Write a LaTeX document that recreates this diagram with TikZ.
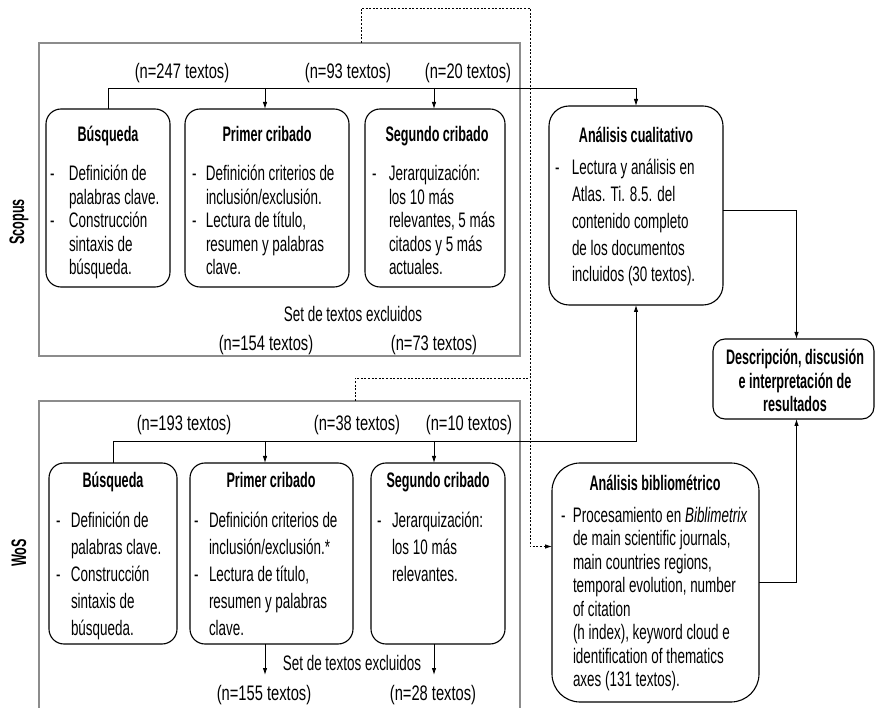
\documentclass[tikz,border=0pt]{standalone}
\usepackage{fontspec}
\setmainfont{Liberation Sans}[FakeStretch=0.64, BoldFeatures={FakeStretch=0.6}]
\newfontfamily\lbfont{Liberation Sans}[FakeStretch=0.70]
\usetikzlibrary{arrows.meta,fit}
\definecolor{og}{gray}{0.55}
\newcommand\fA{\fontsize{21}{23.5}\selectfont}
\newcommand\fB{\fontsize{21}{27}\selectfont}
\newcommand\fC{\fontsize{21}{26.75}\selectfont}
\newcommand\tstrut{\rule{0pt}{16pt}}
\newcommand\bul[1]{\makebox[#1pt][l]{-}}
\newcommand\ind[1]{\hspace*{#1pt}}
\begin{document}
\begin{tikzpicture}[x=1pt,y=-1pt,
  every node/.style={inner sep=0pt, outer sep=0pt},
  box/.style={draw, line width=1.1pt, rounded corners=#1},
  box/.default=15pt,
  outer/.style={draw=og, line width=1.2pt},
  arr/.style={line width=0.9pt, -{Latex[length=7pt,width=4.5pt]}},
  dotl/.style={line width=0.8pt, dash pattern=on 2pt off 1.6pt},
  txt/.style={anchor=north west, align=left},
  hd/.style={anchor=base, font=\bfseries\fA},
  lab/.style={font=\lbfont\fA},
  side/.style={rotate=90, font=\bfseries\fA}]
\useasboundingbox (0,0) rectangle (876,708);

% outer frames
\node[outer, fit={(39,43) (520,356)}] (sc) {};
\coordinate (wosA) at (39,708);
\coordinate (wosB) at (39,401);
\coordinate (wosC) at (520,401);
\coordinate (wosD) at (520,708);
\draw[outer] (wosA) -- (wosB) -- (wosC) -- (wosD);

\node[side] (lsc) at (19,222) {Scopus};
\node[side] (lwo) at (19,553) {WoS};

% boxes
\node[box, fit={(46,109) (170,287)}] (sb) {};
\node[box, fit={(185,109) (349,287)}] (sp) {};
\node[box, fit={(365,109) (505,287)}] (ss) {};
\node[box=20pt, fit={(549,106) (723,305)}] (cu) {};
\node[box=12pt, fit={(713,339) (874,419)}] (de) {};
\node[box, fit={(49,463) (177,644)}] (wb) {};
\node[box, fit={(190,463) (353,644)}] (wp) {};
\node[box, fit={(371,463) (505,644)}] (ws) {};
\node[box=28pt, fit={(552,463) (759,702)}] (bi) {};

% headings
\node[hd] (hsb) at (108,142) {Búsqueda};
\node[hd] (hsp) at (267,142) {Primer cribado};
\node[hd] (hss) at (437,142) {Segundo cribado};
\node[hd] (hwb) at (113,488) {Búsqueda};
\node[hd] (hwp) at (271,488) {Primer cribado};
\node[hd] (hws) at (438,488) {Segundo cribado};
\node[hd] (hcu) at (636,143) {Análisis cualitativo};
\node[hd] (hbi) at (655,490) {Análisis bibliométrico};
\node[anchor=north, align=center, font=\bfseries\fA] (tde) at (795,349)
  {\tstrut Descripción, discusión\\e interpretación de\\resultados};

% body texts
\node[txt, font=\fA] (tsb) at (50,165) {\tstrut\bul{19}Definición de\\\ind{19}palabras clave.\\\bul{19}Construcción\\\ind{19}sintaxis de\\\ind{19}búsqueda.};
\node[txt, font=\fA] (tsp) at (192,165) {\tstrut\bul{14}Definición criterios de\\\ind{14}inclusión/exclusión.\\\bul{14}Lectura de título,\\\ind{14}resumen y palabras\\\ind{14}clave.};
\node[txt, font=\fA] (tss) at (372,165) {\tstrut\bul{17}Jerarquización:\\\ind{17}los 10 más\\\ind{17}relevantes, 5 más\\\ind{17}citados y 5 más\\\ind{17}actuales.};
\node[txt, font=\fB] (twb) at (56,511) {\tstrut\bul{15}Definición de\\\ind{15}palabras clave.\\\bul{15}Construcción\\\ind{15}sintaxis de\\\ind{15}búsqueda.};
\node[txt, font=\fB] (twp) at (194,511) {\tstrut\bul{15}Definición criterios de\\\ind{15}inclusión/exclusión.*\\\bul{15}Lectura de título,\\\ind{15}resumen y palabras\\\ind{15}clave.};
\node[txt, font=\fB] (tws) at (377,511) {\tstrut\bul{15}Jerarquización:\\\ind{15}los 10 más\\\ind{15}relevantes.};
\node[txt, font=\fC] (tcu) at (555,159) {\tstrut\bul{17}Lectura y análisis en\\\ind{17}Atlas. Ti. 8.5. del\\\ind{17}contenido completo\\\ind{17}de los documentos\\\ind{17}incluidos (30 textos).};
\node[txt, font=\fA] (tbi) at (561,506) {\tstrut\bul{12}Procesamiento en \textit{Biblimetrix}\\\ind{12}de main scientific journals,\\\ind{12}main countries regions,\\\ind{12}temporal evolution, number\\\ind{12}of citation\\\ind{12}(h index), keyword cloud e\\\ind{12}identification of thematics\\\ind{12}axes (131 textos).};

% count labels
\node[lab] (l1) at (182,73) {(n=247 textos)};
\node[lab] (l2) at (348,73) {(n=93 textos)};
\node[lab] (l3) at (468,73) {(n=20 textos)};
\node[lab] (l4) at (184,425) {(n=193 textos)};
\node[lab] (l5) at (357,425) {(n=38 textos)};
\node[lab] (l6) at (469,425) {(n=10 textos)};
\node[font=\fA] (ex1) at (353,314) {Set de textos excluidos};
\node[lab] (l7) at (266,345) {(n=154 textos)};
\node[lab] (l8) at (434,345) {(n=73 textos)};
\node[font=\fA] (ex2) at (352,663) {Set de textos excluidos};
\node[lab] (l9) at (264,695) {(n=155 textos)};
\node[lab] (l10) at (433,695) {(n=28 textos)};

% connectors
\coordinate (sl) at (0,88);
\coordinate (wl) at (0,441);
\coordinate (spx) at (265,0);
\coordinate (ssx) at (434,0);
\coordinate (exy) at (0,675);
\draw[arr] (sb.north) |- (cu.north |- sl) -- (cu.north);
\draw[arr] (spx |- sl) -- (spx |- sp.north);
\draw[arr] (ssx |- sl) -- (ssx |- ss.north);
\draw[arr] (wb.north) |- (cu.south |- wl) -- (cu.south);
\draw[arr] (spx |- wl) -- (spx |- wp.north);
\draw[arr] (ssx |- wl) -- (ssx |- ws.north);
\draw[arr] (spx |- wp.south) -- (spx |- exy);
\draw[arr] (ssx |- ws.south) -- (ssx |- exy);
\draw[arr] ([yshift=-5pt]cu.east) -| ([xshift=3pt]de.north);
\draw[arr] (bi.east) -| ([xshift=3pt]de.south);

% dotted links
\coordinate (d1) at (361,8);
\coordinate (d2) at (530,8);
\coordinate (w1) at (355,378);
\draw[dotl, -{Latex[length=7pt,width=4.5pt]}] (d1 |- sc.north) -- (d1) -- (d2) |- ([yshift=36pt]bi.west);
\draw[dotl] (w1 |- wosB) -- (w1) -- (w1 -| d2);
\end{tikzpicture}
\end{document}
